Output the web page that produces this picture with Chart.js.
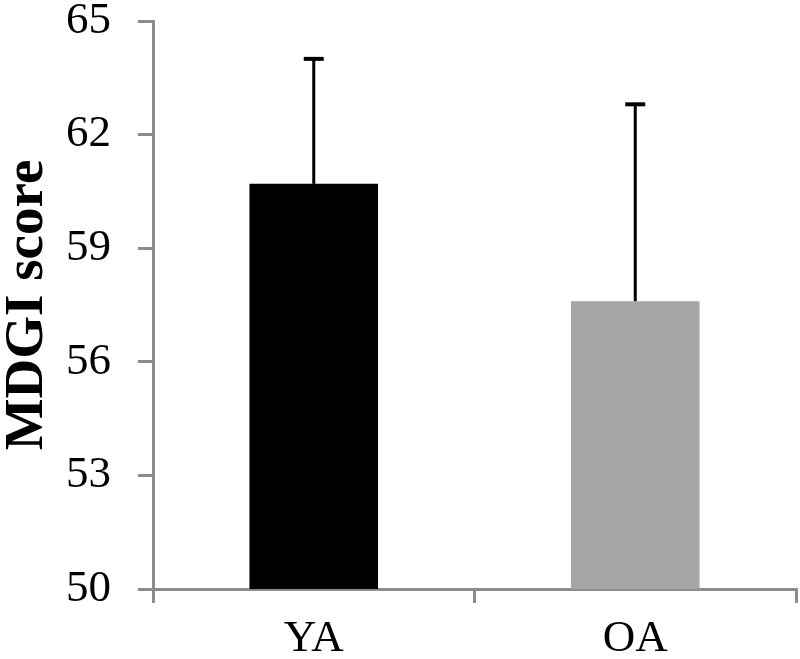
<!DOCTYPE html>
<html>
<head>
<meta charset="utf-8">
<script src="https://cdn.jsdelivr.net/npm/chart.js@4.4.1/dist/chart.umd.min.js"></script>
<style>
  html, body { margin: 0; padding: 0; background: #fff; }
  #wrap { width: 800px; height: 659px; }
</style>
</head>
<body>
<div id="wrap"><canvas id="my-chart" width="800" height="659"></canvas></div>
<script>
// data
var groups = ['YA', 'OA'];
var mdgiMean = [60.7, 57.6];
var mdgiSD = [3.3, 5.2];
var barColors = ['#000000', '#a6a6a6'];
var yTicks = [50, 53, 56, 59, 62, 65];

// draws the upper error bar above each bar
var errorBars = {
    id: 'errorBars',
    afterDatasetsDraw: function(chart) {
        var ctx = chart.ctx;
        var yScale = chart.scales.y;
        var meta = chart.getDatasetMeta(0);
        ctx.save();
        ctx.strokeStyle = '#000';
        meta.data.forEach(function(bar, i) {
            var top = yScale.getPixelForValue(mdgiMean[i] + mdgiSD[i]);
            var base = yScale.getPixelForValue(mdgiMean[i]);
            ctx.lineWidth = 3;
            ctx.beginPath();
            ctx.moveTo(bar.x, base);
            ctx.lineTo(bar.x, top);
            ctx.stroke();
            ctx.lineWidth = 4;
            ctx.beginPath();
            ctx.moveTo(bar.x - 10, top);
            ctx.lineTo(bar.x + 10, top);
            ctx.stroke();
        });
        ctx.restore();
    }
};

var ctx = document.getElementById('my-chart').getContext('2d');
var chart = new Chart(ctx, {
    type: 'bar',
    data: {
        labels: groups,
        datasets: [{
            data: mdgiMean,
            backgroundColor: barColors,
            borderWidth: 0,
            categoryPercentage: 0.8,
            barPercentage: 0.5
        }]
    },
    options: {
        responsive: false,
        animation: false,
        layout: { padding: { top: 21, right: 4, left: 0, bottom: 0 } },
        plugins: {
            legend: { display: false },
            tooltip: { enabled: false }
        },
        scales: {
            x: {
                grid: {
                    display: true,
                    drawOnChartArea: false,
                    offset: true,
                    color: '#8c8c8c',
                    lineWidth: 3,
                    tickLength: 14
                },
                border: { color: '#8c8c8c', width: 3 },
                ticks: {
                    color: '#000',
                    padding: 14,
                    font: { family: 'Liberation Serif', size: 45, lineHeight: 1 }
                },
                afterFit: function(scale) { scale.height = 70; }
            },
            y: {
                min: 50,
                max: 65,
                afterBuildTicks: function(scale) {
                    scale.ticks = yTicks.map(function(v) { return { value: v }; });
                },
                grid: {
                    drawOnChartArea: false,
                    color: '#8c8c8c',
                    lineWidth: 3,
                    tickLength: 15
                },
                border: { color: '#8c8c8c', width: 3 },
                ticks: {
                    color: '#000',
                    padding: 27,
                    font: { family: 'Liberation Serif', size: 45 }
                },
                title: {
                    display: true,
                    text: 'MDGI score',
                    color: '#000',
                    padding: { top: 0, bottom: 0 },
                    font: { family: 'Liberation Serif', size: 55, weight: 'bold', lineHeight: 1 }
                },
                afterFit: function(scale) {
                    scale.width = 153;
                    // keep the top of the axis at the 65 line
                    scale.paddingTop = 0;
                    scale.paddingBottom = 0;
                }
            }
        }
    },
    plugins: [errorBars]
});
</script>
</body>
</html>
